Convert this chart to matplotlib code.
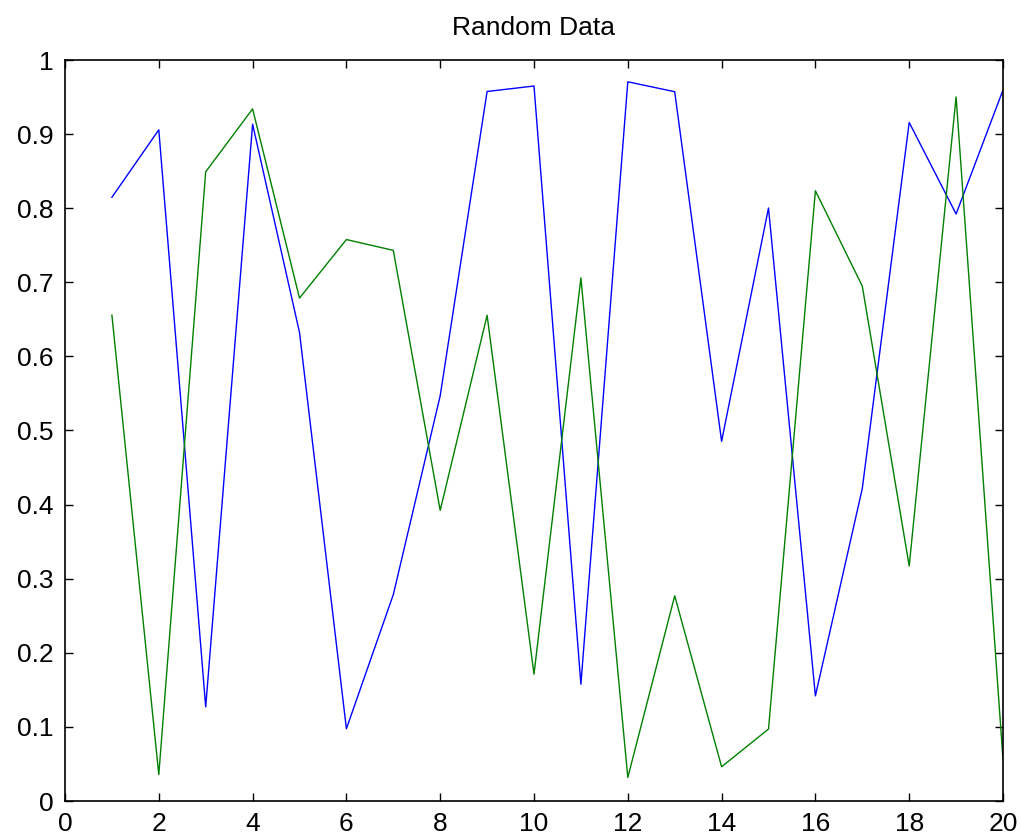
import matplotlib
matplotlib.use("Agg")
import matplotlib.pyplot as plt
import numpy as np

x = list(range(1, 21))
blue = [0.8147, 0.9058, 0.1270, 0.9134, 0.6324, 0.0975, 0.2785, 0.5469, 0.9575, 0.9649,
        0.1576, 0.9706, 0.9572, 0.4854, 0.8003, 0.1419, 0.4218, 0.9157, 0.7922, 0.9595]
green = [0.6557, 0.0357, 0.8491, 0.9340, 0.6787, 0.7577, 0.7431, 0.3922, 0.6555, 0.1712,
         0.7060, 0.0318, 0.2769, 0.0462, 0.0971, 0.8235, 0.6948, 0.3171, 0.9502, 0.0560]
xticks = list(range(0, 21, 2))
yticks = [round(0.1 * i, 1) for i in range(11)]
ylabels = ['0', '0.1', '0.2', '0.3', '0.4', '0.5', '0.6', '0.7', '0.8', '0.9', '1']

plt.rcParams['font.family'] = ['Liberation Sans', 'DejaVu Sans']
fig = plt.figure(figsize=(10.21, 8.38), dpi=100)
ax = fig.add_axes([65/1021, 37/838, (1003-65)/1021, (801-60)/838])
ax.plot(x, blue, color=(0, 0, 1), lw=1.0)
ax.plot(x, green, color=(0, 0.5, 0), lw=1.0)
ax.set_xlim(0, 20)
ax.set_ylim(0, 1)
ax.set_xticks(xticks)
ax.set_xticklabels([str(t) for t in xticks])
ax.set_yticks(yticks)
ax.set_yticklabels(ylabels)
ax.tick_params(direction='in', length=6, width=1.0, top=True, right=True,
               labelsize=19, pad=8, colors='black')
for s in ax.spines.values():
    s.set_linewidth(1.2)
ax.set_title('Random Data', fontsize=19, pad=18)
fig.savefig('out.png', dpi=100)
